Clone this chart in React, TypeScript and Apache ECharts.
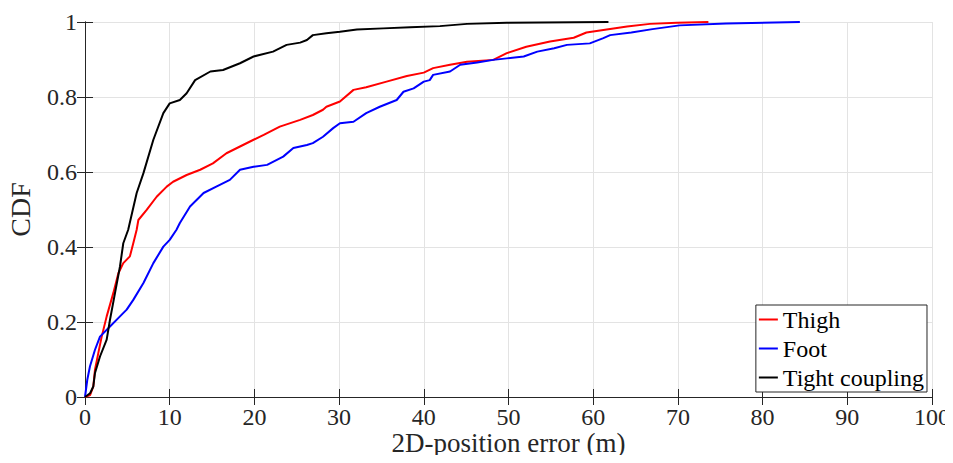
import React, { useEffect, useRef } from "react";
import * as echarts from "echarts";

const seriesNames = ["Thigh", "Foot", "Tight coupling"];
const seriesColors = ["#ff0000", "#0000ff", "#000000"];

const thighData: [number, number][] = [
  [0, 0], [0.6, 0.005], [0.98, 0.028], [1.18, 0.073], [1.57, 0.117], [1.97, 0.161],
  [2.56, 0.215], [3.34, 0.277], [3.94, 0.33], [4.52, 0.357], [5.3, 0.375], [5.7, 0.41],
  [6.1, 0.446], [6.3, 0.472], [7.28, 0.499], [8.46, 0.534], [9.65, 0.561], [10.4, 0.574],
  [12.0, 0.592], [13.6, 0.606], [15.1, 0.623], [16.7, 0.65], [18.3, 0.668], [19.9, 0.686],
  [21.1, 0.699], [23.0, 0.721], [25.4, 0.739], [26.9, 0.752], [28.1, 0.766], [28.5, 0.774],
  [30.1, 0.788], [31.7, 0.819], [33.2, 0.826], [35.6, 0.841], [38.0, 0.856], [40.0, 0.865],
  [41.1, 0.877], [43.1, 0.886], [45.1, 0.894], [48.2, 0.899], [49.8, 0.917], [52.1, 0.934],
  [54.9, 0.948], [57.7, 0.958], [59.2, 0.972], [61.6, 0.98], [64.0, 0.988], [66.7, 0.995],
  [69.9, 0.998], [73.6, 1.0],
];

const footData: [number, number][] = [
  [0, 0], [0.27, 0.046], [0.59, 0.082], [1.18, 0.126], [1.77, 0.161], [2.95, 0.188],
  [4.13, 0.215], [4.92, 0.233], [5.7, 0.259], [6.9, 0.304], [8.07, 0.357], [9.25, 0.401],
  [10.0, 0.419], [10.8, 0.446], [11.2, 0.464], [12.4, 0.508], [14.0, 0.544], [15.5, 0.561],
  [17.1, 0.579], [18.3, 0.606], [19.9, 0.614], [21.5, 0.619], [23.4, 0.641], [24.6, 0.664],
  [26.2, 0.672], [26.9, 0.677], [28.1, 0.694], [29.3, 0.717], [30.1, 0.73], [31.7, 0.734],
  [33.2, 0.757], [34.8, 0.774], [36.8, 0.792], [37.6, 0.814], [38.8, 0.823], [40.0, 0.841],
  [40.7, 0.845], [41.1, 0.859], [43.1, 0.868], [44.3, 0.886], [46.3, 0.892], [48.2, 0.899],
  [49.8, 0.903], [51.8, 0.908], [53.4, 0.921], [55.4, 0.93], [56.9, 0.939], [59.6, 0.943],
  [61.2, 0.957], [62.0, 0.965], [64.5, 0.972], [67.0, 0.981], [70.2, 0.991], [75.7, 0.996],
  [84.4, 1.0],
];

const tightData: [number, number][] = [
  [0, 0], [0.6, 0.01], [0.98, 0.028], [1.18, 0.064], [1.77, 0.108], [2.56, 0.153],
  [2.95, 0.206], [3.54, 0.277], [4.13, 0.348], [4.52, 0.41], [5.1, 0.446], [6.1, 0.544],
  [6.9, 0.597], [8.07, 0.686], [9.25, 0.757], [10.0, 0.783], [11.2, 0.792], [12.0, 0.81],
  [13.0, 0.845], [14.8, 0.868], [16.3, 0.872], [18.3, 0.89], [19.9, 0.908], [22.2, 0.921],
  [23.8, 0.939], [25.4, 0.945], [26.2, 0.952], [26.9, 0.965], [28.5, 0.97], [30.1, 0.974],
  [32.1, 0.98], [35.2, 0.983], [38.4, 0.986], [41.9, 0.989], [45.1, 0.995], [49.8, 0.998],
  [61.8, 1.0],
];

const xTitle = "2D-position error (m)";
const yTitle = "CDF";

const FONT = "Liberation Serif";
const AXIS_COLOR = "#262626";
const GRID_COLOR = "#e3e3e3";

export default function App() {
  const ref = useRef<HTMLDivElement>(null);
  useEffect(() => {
    if (!ref.current) return;
    const chart = echarts.init(ref.current, undefined, { renderer: "svg" });
    const allData = [thighData, footData, tightData];
    const axisCommon = {
      type: "value" as const,
      axisLine: { show: true, lineStyle: { color: AXIS_COLOR, width: 1 } },
      axisTick: { show: true, inside: true, length: 8, lineStyle: { color: AXIS_COLOR } },
    };
    const labelStyle = { fontFamily: FONT, fontSize: 24, color: AXIS_COLOR, fontWeight: "normal" as const };
    chart.setOption({
      animation: false,
      backgroundColor: "#ffffff",
      textStyle: { fontFamily: FONT },
      grid: { left: 85, right: 21, top: 22, bottom: 66, containLabel: false, outerBoundsMode: "none" },
      xAxis: [
        {
          ...axisCommon,
          min: 0,
          max: 100,
          interval: 10,
          position: "bottom",
          name: xTitle,
          nameLocation: "middle",
          nameGap: 32,
          nameMoveOverlap: false,
          nameTextStyle: { fontFamily: FONT, fontSize: 27, color: AXIS_COLOR },
          axisLabel: { ...labelStyle, margin: 8, hideOverlap: false, overflow: "none", alignMaxLabel: "center" },
          splitLine: { show: true, lineStyle: { color: GRID_COLOR, width: 1 } },
        },
        {
          ...axisCommon,
          min: 0,
          max: 100,
          interval: 10,
          position: "top",
          axisLabel: { show: false },
          splitLine: { show: false },
        },
      ],
      yAxis: [
        {
          ...axisCommon,
          min: 0,
          max: 1,
          interval: 0.2,
          position: "left",
          name: yTitle,
          nameLocation: "middle",
          nameGap: 51,
          nameMoveOverlap: false,
          nameTextStyle: { fontFamily: FONT, fontSize: 28, color: AXIS_COLOR },
          axisLabel: { ...labelStyle, margin: 8 },
          splitLine: { show: true, lineStyle: { color: GRID_COLOR, width: 1 } },
        },
        {
          ...axisCommon,
          min: 0,
          max: 1,
          interval: 0.2,
          position: "right",
          axisLabel: { show: false },
          splitLine: { show: false },
        },
      ],
      legend: {
        show: true,
        orient: "vertical",
        right: 26,
        top: 305,
        padding: [0, 3, 0, 3],
        itemGap: 0,
        itemWidth: 19,
        itemHeight: 2,
        icon: "rect",
        backgroundColor: "#ffffff",
        borderColor: AXIS_COLOR,
        borderWidth: 1,
        borderRadius: 0,
        textStyle: { fontFamily: FONT, fontSize: 24, color: "#000000", lineHeight: 29 },
        data: seriesNames,
      },
      series: seriesNames.map((name, i) => ({
        name,
        type: "line",
        data: allData[i],
        showSymbol: false,
        symbol: "none",
        lineStyle: { color: seriesColors[i], width: 2 },
        itemStyle: { color: seriesColors[i] },
        z: 3 + i,
      })),
    });
    return () => chart.dispose();
  }, []);
  return <div ref={ref} style={{ width: 953, height: 463, margin: -8 }} />;
}
